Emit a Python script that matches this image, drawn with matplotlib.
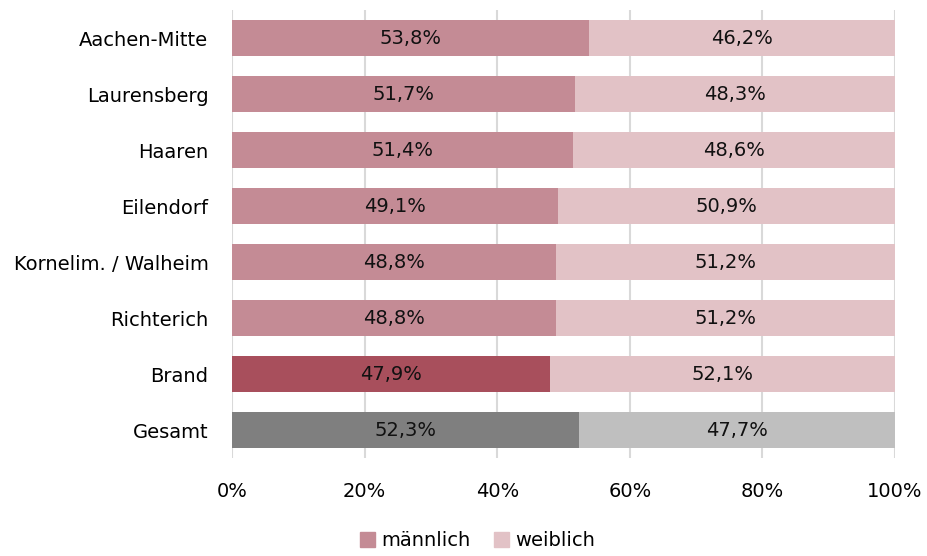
import matplotlib
matplotlib.use("Agg")
import matplotlib.pyplot as plt
from matplotlib.patches import Patch
import numpy as np

plt.rcParams['font.family'] = ['DejaVu Sans']

categories = ["Aachen-Mitte", "Laurensberg", "Haaren", "Eilendorf",
              "Kornelim. / Walheim", "Richterich", "Brand", "Gesamt"]
maennlich = [53.8, 51.7, 51.4, 49.1, 48.8, 48.8, 47.9, 52.3]
weiblich = [46.2, 48.3, 48.6, 50.9, 51.2, 51.2, 52.1, 47.7]

c_m = "#C48B95"
c_w = "#E2C2C6"
m_colors = [c_m] * 6 + ["#A84F5C", "#7F7F7F"]
w_colors = [c_w] * 7 + ["#BFBFBF"]

fig = plt.figure(figsize=(9.27, 5.56), dpi=100)
ax = fig.add_axes([0.2503, 0.176, 0.7152, 0.806])

y = np.arange(len(categories))
h = 0.64
ax.barh(y, maennlich, height=h, color=m_colors, zorder=3)
ax.barh(y, weiblich, left=maennlich, height=h, color=w_colors, zorder=3)

for i in range(len(categories)):
    ax.text(maennlich[i] / 2, y[i], f"{maennlich[i]:.1f}%".replace(".", ","),
            ha="center", va="center", fontsize=14, color="#111111", zorder=4)
    ax.text(maennlich[i] + weiblich[i] / 2, y[i], f"{weiblich[i]:.1f}%".replace(".", ","),
            ha="center", va="center", fontsize=14, color="#111111", zorder=4)

ax.set_xlim(0, 100)
ax.set_ylim(len(categories) - 0.5, -0.5)
ax.set_yticks(y)
ax.set_yticklabels(categories, fontsize=14)
ax.set_xticks([0, 20, 40, 60, 80, 100])
ax.set_xticklabels(["0%", "20%", "40%", "60%", "80%", "100%"], fontsize=14)
ax.tick_params(axis="y", length=0, pad=17)
ax.tick_params(axis="x", length=0, pad=17)
ax.grid(axis="x", color="#D9D9D9", linewidth=1.5, zorder=0)
for s in ax.spines.values():
    s.set_visible(False)

handles = [Patch(color=c_m, label="männlich"), Patch(color=c_w, label="weiblich")]
leg = fig.legend(handles=handles, loc="center", ncol=2,
                 frameon=False, fontsize=14, handlelength=0.8, handleheight=0.8,
                 handletextpad=0.3, columnspacing=1.2,
                 bbox_to_anchor=(0.515, 0.027), bbox_transform=fig.transFigure)

fig.savefig("out.png", dpi=100)
